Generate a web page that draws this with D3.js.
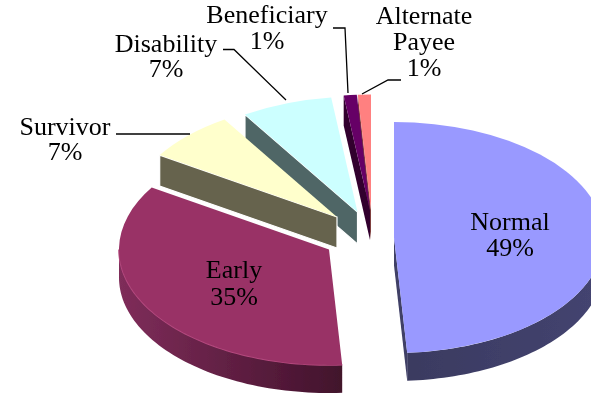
<!DOCTYPE html>
<html><head><meta charset="utf-8">
<script src="https://cdn.jsdelivr.net/npm/d3@7"></script>
<style>html,body{margin:0;padding:0;background:#fff;overflow:hidden}svg{display:block}text{font-family:"Liberation Serif",serif;fill:#000;font-size:26px;text-anchor:middle}</style>
</head><body><svg id="c" width="591" height="395"></svg>
<script>
// data
const categories = ["Normal","Early","Survivor","Disability","Beneficiary","Alternate Payee"];
const values = [49,35,7,7,1,1];
const percentLabels = ["49%","35%","7%","7%","1%","1%"];
// styles
const topColors = ["#9999ff","#993366","#ffffcc","#ccffff","#660066","#ff8080"];
const wallColors = ["#3f3f66","#6f2a50","#66634d","#4f6666","#33052f","#7f3f3f"];
// layout
const W=591,H=395,rx=210,ry=115.5;
const depths=[28,28,31,32,30,30];
const centres=[[394,237.5],[329,249.5],[337,217],[357.5,212],[370,210],[371,210]];
const labelPos=[
 {x:510,y:[230,256]},{x:234,y:[278,305]},{x:65,y:[135,160]},
 {x:166,y:[52,77]},{x:267,y:[23,49]},{x:424,y:[24,50,76]}];
const labelLines=[["Normal"],["Early"],["Survivor"],["Disability"],["Beneficiary"],["Alternate","Payee"]];
const leaders=[null,null,
 [[116,134],[190,134]],
 [[223,49.5],[234,49.5],[286,100]],
 [[333,28],[345,28],[348,93]],
 [[362,94],[388,80],[401,80]]];
const drawOrder=[0,5,4,3,2,1];

const svg=d3.select("#c");
const defs=svg.append("defs");
defs.append("filter").attr("id","soft").attr("x","-5%").attr("y","-5%").attr("width","110%").attr("height","110%")
  .append("feGaussianBlur").attr("stdDeviation",0.55);
defs.append("filter").attr("id","softText").attr("x","-5%").attr("y","-5%").attr("width","110%").attr("height","110%")
  .append("feGaussianBlur").attr("stdDeviation",0.3);
const g1=defs.append("linearGradient").attr("id","wall1").attr("gradientUnits","userSpaceOnUse")
  .attr("x1",119).attr("x2",340).attr("y1",0).attr("y2",0);
g1.append("stop").attr("offset",0).attr("stop-color","#7f2d5a");
g1.append("stop").attr("offset",1).attr("stop-color","#42122c");
const g0=defs.append("linearGradient").attr("id","wall0").attr("gradientUnits","userSpaceOnUse")
  .attr("x1",405).attr("x2",600).attr("y1",0).attr("y2",0);
g0.append("stop").attr("offset",0).attr("stop-color","#3a3a60");
g0.append("stop").attr("offset",1).attr("stop-color","#444470");

const arcs=d3.pie().sort(null)(values);
const px=(c,a)=>[c[0]+rx*Math.sin(a),c[1]-ry*Math.cos(a)];
const line=d3.line();
const arcGen=d3.arc().innerRadius(0).outerRadius(rx);
const pie=svg.append("g").attr("filter","url(#soft)");

drawOrder.forEach(i=>{
  const a=arcs[i],c=centres[i],g=pie.append("g");
  const down=p=>[p[0],p[1]+depths[i]];
  const halo=i>=2&&i<=3;
  // straight cut walls
  [[a.startAngle,Math.sin(a.startAngle)<-1e-6],[a.endAngle,Math.sin(a.endAngle)>1e-6]].forEach(([ang,vis])=>{
    if(!vis) return;
    const r=px(c,ang);
    g.append("path").attr("d",line([c,r,down(r),down(c)])+"Z").attr("fill",wallColors[i])
     .attr("stroke",halo?"#fff":"none").attr("stroke-width",halo?1.2:0);
  });
  // outer rim wall (front half only)
  const from=Math.max(a.startAngle,Math.PI/2),to=Math.min(a.endAngle,3*Math.PI/2);
  if(to>from){
    const ang=d3.range(0,61).map(k=>from+(to-from)*k/60);
    const topEdge=ang.map(t=>px(c,t));
    const botEdge=topEdge.map(down).reverse();
    g.append("path").attr("d",line(topEdge.concat(botEdge))+"Z").attr("fill",i<2?`url(#wall${i})`:wallColors[i]);
    if(i===1) g.append("path").attr("d",line(topEdge)).attr("fill","none").attr("stroke","#b5497f").attr("stroke-width",1.6);
  }
  // top face
  g.append("path").attr("d",arcGen(a))
   .attr("transform",`translate(${c[0]},${c[1]}) scale(1,${ry/rx})`)
   .attr("fill",topColors[i]);
});

leaders.forEach(l=>{ if(l) svg.append("path").attr("d",line(l)).attr("fill","none").attr("stroke","#000").attr("stroke-width",1.3); });

const labels=svg.append("g").attr("filter","url(#softText)");
categories.forEach((n,i)=>{
  const rows=labelLines[i].concat(percentLabels[i]);
  rows.forEach((t,k)=>labels.append("text").attr("x",labelPos[i].x).attr("y",labelPos[i].y[k]).text(t));
});
</script></body></html>
